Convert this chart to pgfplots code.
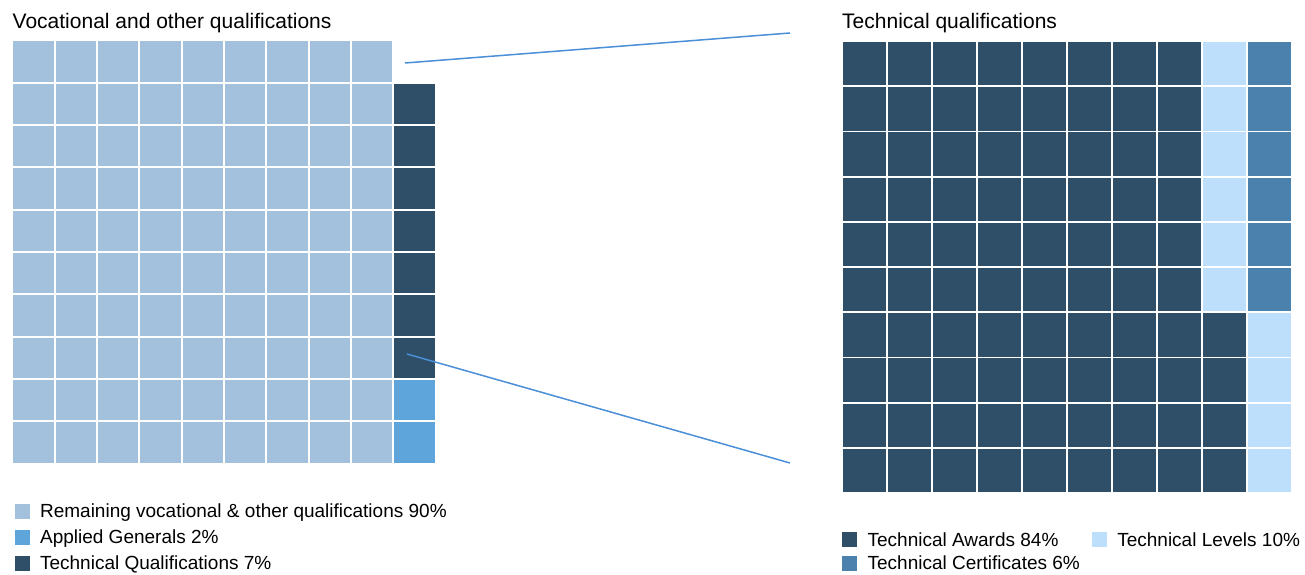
\documentclass[border=0pt]{standalone}
\usepackage{pgfplots}
\pgfplotsset{compat=1.18}
\usepackage{fontspec}
\setmainfont{Liberation Sans}
\definecolor{cRem}{HTML}{A3C0DD}
\definecolor{cApp}{HTML}{5DA5DA}
\definecolor{cTech}{HTML}{2F4E68}
\definecolor{cCert}{HTML}{4A81AD}
\definecolor{cLev}{HTML}{BDDFFB}
\definecolor{cLine}{HTML}{4A8FD8}
\pgfplotsset{
  waffle/.style={
    hide axis, clip=false, scale only axis,
    xmin=-0.5, xmax=9.5, ymin=-0.5, ymax=9.5,
    legend cell align=left,
    legend image code/.code={\path (0pt,0pt) (25pt,0pt); \fill[##1,draw=none] (2pt,-7.5pt) rectangle (17pt,7.5pt);},
    legend style={draw=none, fill=none, inner sep=0pt, row sep=7pt,
      font=\fontsize{19}{22}\selectfont,
      nodes={inner sep=2pt}},
  },
  cell/.style 2 args={only marks, mark=square*, mark size=#1, fill=#2,
    mark options={draw=#2, fill=#2, line width=0pt}},
}
\begin{document}
\begin{tikzpicture}
\useasboundingbox (0pt,0pt) rectangle (1305pt,574pt);
% left waffle
\begin{axis}[waffle, at={(12.5pt,110.5pt)}, anchor=south west,
  width=423pt, height=423pt,
  legend style={at={(axis description cs:0,-0.0895)}, anchor=north west}]
\addplot[cell={19.7pt}{cRem}] coordinates {
(0,9)(1,9)(2,9)(3,9)(4,9)(5,9)(6,9)(7,9)(8,9)
(0,8)(1,8)(2,8)(3,8)(4,8)(5,8)(6,8)(7,8)(8,8)
(0,7)(1,7)(2,7)(3,7)(4,7)(5,7)(6,7)(7,7)(8,7)
(0,6)(1,6)(2,6)(3,6)(4,6)(5,6)(6,6)(7,6)(8,6)
(0,5)(1,5)(2,5)(3,5)(4,5)(5,5)(6,5)(7,5)(8,5)
(0,4)(1,4)(2,4)(3,4)(4,4)(5,4)(6,4)(7,4)(8,4)
(0,3)(1,3)(2,3)(3,3)(4,3)(5,3)(6,3)(7,3)(8,3)
(0,2)(1,2)(2,2)(3,2)(4,2)(5,2)(6,2)(7,2)(8,2)
(0,1)(1,1)(2,1)(3,1)(4,1)(5,1)(6,1)(7,1)(8,1)
(0,0)(1,0)(2,0)(3,0)(4,0)(5,0)(6,0)(7,0)(8,0)
};
\addlegendentry{Remaining vocational \& other qualifications 90\%}
\addplot[cell={19.7pt}{cApp}] coordinates {
(9,1)(9,0)
};
\addlegendentry{Applied Generals 2\%}
\addplot[cell={19.7pt}{cTech}] coordinates {
(9,8)(9,7)(9,6)(9,5)(9,4)(9,3)(9,2)
};
\addlegendentry{Technical Qualifications 7\%}
\end{axis}
% right waffle
\begin{axis}[waffle, at={(842pt,81pt)}, anchor=south west,
  width=450pt, height=452pt,
  legend columns=2,
  legend style={at={(axis description cs:-0.0044,-0.082)}, anchor=north west, row sep=4pt,
    /tikz/every even column/.append style={column sep=8pt}}]
\addplot[cell={21.2pt}{cTech}] coordinates {
(0,9)(1,9)(2,9)(3,9)(4,9)(5,9)(6,9)(7,9)
(0,8)(1,8)(2,8)(3,8)(4,8)(5,8)(6,8)(7,8)
(0,7)(1,7)(2,7)(3,7)(4,7)(5,7)(6,7)(7,7)
(0,6)(1,6)(2,6)(3,6)(4,6)(5,6)(6,6)(7,6)
(0,5)(1,5)(2,5)(3,5)(4,5)(5,5)(6,5)(7,5)
(0,4)(1,4)(2,4)(3,4)(4,4)(5,4)(6,4)(7,4)
(0,3)(1,3)(2,3)(3,3)(4,3)(5,3)(6,3)(7,3)(8,3)
(0,2)(1,2)(2,2)(3,2)(4,2)(5,2)(6,2)(7,2)(8,2)
(0,1)(1,1)(2,1)(3,1)(4,1)(5,1)(6,1)(7,1)(8,1)
(0,0)(1,0)(2,0)(3,0)(4,0)(5,0)(6,0)(7,0)(8,0)
};
\addlegendentry{Technical Awards 84\%}
\addplot[cell={21.2pt}{cLev}] coordinates {
(8,9)(8,8)(8,7)(8,6)(8,5)(8,4)(9,3)(9,2)(9,1)(9,0)
};
\addlegendentry{Technical Levels 10\%}
\addplot[cell={21.2pt}{cCert}] coordinates {
(9,9)(9,8)(9,7)(9,6)(9,5)(9,4)
};
\addlegendentry{Technical Certificates 6\%}
\end{axis}
% titles
\node[anchor=base west, inner sep=0pt, font=\fontsize{21}{25}\selectfont] at (12.5pt,545pt) {Vocational and other qualifications};
\node[anchor=base west, inner sep=0pt, font=\fontsize{21}{25}\selectfont] at (842pt,545pt) {Technical qualifications};
% connector lines
\draw[cLine, line width=1.5pt] (405pt,511pt) -- (790pt,541pt);
\draw[cLine, line width=1.5pt] (407pt,220pt) -- (790pt,111pt);
\end{tikzpicture}
\end{document}
